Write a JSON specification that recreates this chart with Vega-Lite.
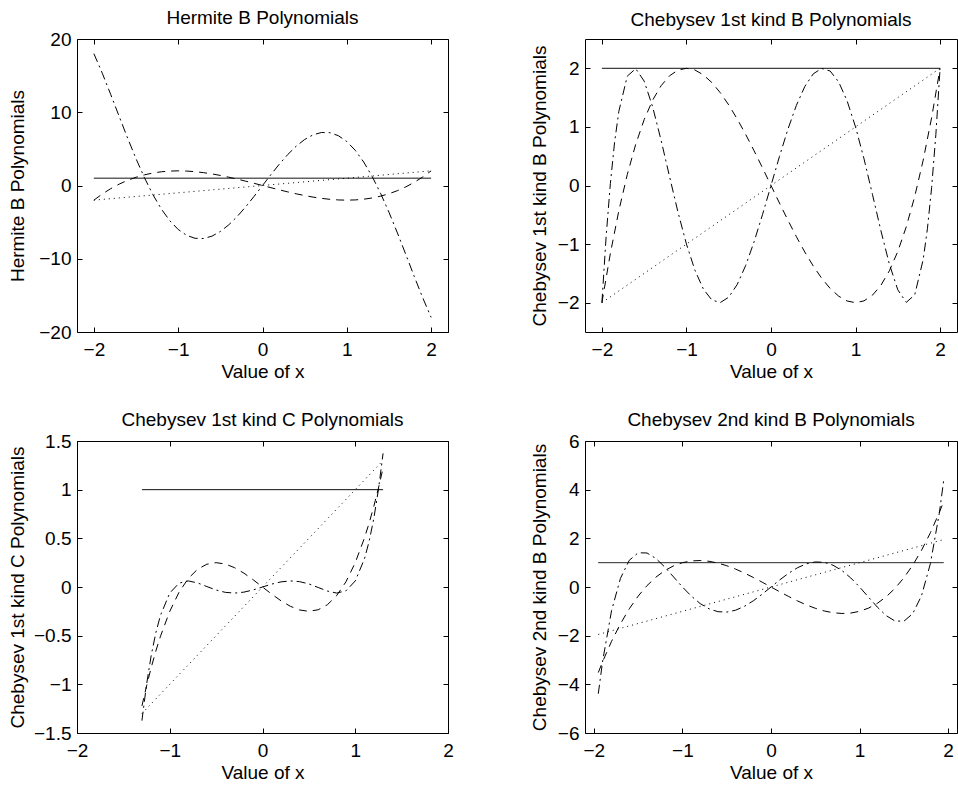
{
"$schema": "https://vega.github.io/schema/vega-lite/v6.json",
"autosize": {"type": "none"},
"padding": {"left": 77, "top": 39, "right": 881, "bottom": 750},
"background": "white",
"bounds": "flush",
"spacing": {"row": 109, "column": 137},
"columns": 2,
"datasets": {
"p1": [
{"x":-2,"y":1,"s":"a"},{"x":2,"y":1,"s":"a"},
{"x":-2,"y":-2,"s":"b"},{"x":2,"y":2,"s":"b"},
{"x":-2,"y":-2,"s":"c"},{"x":-1.9,"y":-1.159,"s":"c"},{"x":-1.8,"y":-0.432,"s":"c"},{"x":-1.7,"y":0.187,"s":"c"},{"x":-1.6,"y":0.704,"s":"c"},{"x":-1.5,"y":1.125,"s":"c"},{"x":-1.4,"y":1.456,"s":"c"},{"x":-1.3,"y":1.703,"s":"c"},{"x":-1.2,"y":1.872,"s":"c"},{"x":-1.1,"y":1.969,"s":"c"},{"x":-1,"y":2,"s":"c"},{"x":-0.9,"y":1.971,"s":"c"},{"x":-0.8,"y":1.888,"s":"c"},{"x":-0.7,"y":1.757,"s":"c"},{"x":-0.6,"y":1.584,"s":"c"},{"x":-0.5,"y":1.375,"s":"c"},{"x":-0.4,"y":1.136,"s":"c"},{"x":-0.3,"y":0.873,"s":"c"},{"x":-0.2,"y":0.592,"s":"c"},{"x":-0.1,"y":0.299,"s":"c"},{"x":0,"y":0,"s":"c"},{"x":0.1,"y":-0.299,"s":"c"},{"x":0.2,"y":-0.592,"s":"c"},{"x":0.3,"y":-0.873,"s":"c"},{"x":0.4,"y":-1.136,"s":"c"},{"x":0.5,"y":-1.375,"s":"c"},{"x":0.6,"y":-1.584,"s":"c"},{"x":0.7,"y":-1.757,"s":"c"},{"x":0.8,"y":-1.888,"s":"c"},{"x":0.9,"y":-1.971,"s":"c"},{"x":1,"y":-2,"s":"c"},{"x":1.1,"y":-1.969,"s":"c"},{"x":1.2,"y":-1.872,"s":"c"},{"x":1.3,"y":-1.703,"s":"c"},{"x":1.4,"y":-1.456,"s":"c"},{"x":1.5,"y":-1.125,"s":"c"},{"x":1.6,"y":-0.704,"s":"c"},{"x":1.7,"y":-0.187,"s":"c"},{"x":1.8,"y":0.432,"s":"c"},{"x":1.9,"y":1.159,"s":"c"},{"x":2,"y":2,"s":"c"},
{"x":-2,"y":18,"s":"d"},{"x":-1.9,"y":15.329,"s":"d"},{"x":-1.8,"y":12.424,"s":"d"},{"x":-1.7,"y":9.431,"s":"d"},{"x":-1.6,"y":6.474,"s":"d"},{"x":-1.5,"y":3.656,"s":"d"},{"x":-1.4,"y":1.062,"s":"d"},{"x":-1.3,"y":-1.243,"s":"d"},{"x":-1.2,"y":-3.208,"s":"d"},{"x":-1.1,"y":-4.801,"s":"d"},{"x":-1,"y":-6,"s":"d"},{"x":-0.9,"y":-6.8,"s":"d"},{"x":-0.8,"y":-7.208,"s":"d"},{"x":-0.7,"y":-7.238,"s":"d"},{"x":-0.6,"y":-6.918,"s":"d"},{"x":-0.5,"y":-6.281,"s":"d"},{"x":-0.4,"y":-5.37,"s":"d"},{"x":-0.3,"y":-4.232,"s":"d"},{"x":-0.2,"y":-2.92,"s":"d"},{"x":-0.1,"y":-1.49,"s":"d"},{"x":0,"y":0,"s":"d"},{"x":0.1,"y":1.49,"s":"d"},{"x":0.2,"y":2.92,"s":"d"},{"x":0.3,"y":4.232,"s":"d"},{"x":0.4,"y":5.37,"s":"d"},{"x":0.5,"y":6.281,"s":"d"},{"x":0.6,"y":6.918,"s":"d"},{"x":0.7,"y":7.238,"s":"d"},{"x":0.8,"y":7.208,"s":"d"},{"x":0.9,"y":6.8,"s":"d"},{"x":1,"y":6,"s":"d"},{"x":1.1,"y":4.801,"s":"d"},{"x":1.2,"y":3.208,"s":"d"},{"x":1.3,"y":1.243,"s":"d"},{"x":1.4,"y":-1.062,"s":"d"},{"x":1.5,"y":-3.656,"s":"d"},{"x":1.6,"y":-6.474,"s":"d"},{"x":1.7,"y":-9.431,"s":"d"},{"x":1.8,"y":-12.424,"s":"d"},{"x":1.9,"y":-15.329,"s":"d"},{"x":2,"y":-18,"s":"d"}
],
"p2": [
{"x":-2,"y":2,"s":"a"},{"x":2,"y":2,"s":"a"},
{"x":-2,"y":-2,"s":"b"},{"x":2,"y":2,"s":"b"},
{"x":-2,"y":-2,"s":"c"},{"x":-1.9,"y":-1.159,"s":"c"},{"x":-1.8,"y":-0.432,"s":"c"},{"x":-1.7,"y":0.187,"s":"c"},{"x":-1.6,"y":0.704,"s":"c"},{"x":-1.5,"y":1.125,"s":"c"},{"x":-1.4,"y":1.456,"s":"c"},{"x":-1.3,"y":1.703,"s":"c"},{"x":-1.2,"y":1.872,"s":"c"},{"x":-1.1,"y":1.969,"s":"c"},{"x":-1,"y":2,"s":"c"},{"x":-0.9,"y":1.971,"s":"c"},{"x":-0.8,"y":1.888,"s":"c"},{"x":-0.7,"y":1.757,"s":"c"},{"x":-0.6,"y":1.584,"s":"c"},{"x":-0.5,"y":1.375,"s":"c"},{"x":-0.4,"y":1.136,"s":"c"},{"x":-0.3,"y":0.873,"s":"c"},{"x":-0.2,"y":0.592,"s":"c"},{"x":-0.1,"y":0.299,"s":"c"},{"x":0,"y":0,"s":"c"},{"x":0.1,"y":-0.299,"s":"c"},{"x":0.2,"y":-0.592,"s":"c"},{"x":0.3,"y":-0.873,"s":"c"},{"x":0.4,"y":-1.136,"s":"c"},{"x":0.5,"y":-1.375,"s":"c"},{"x":0.6,"y":-1.584,"s":"c"},{"x":0.7,"y":-1.757,"s":"c"},{"x":0.8,"y":-1.888,"s":"c"},{"x":0.9,"y":-1.971,"s":"c"},{"x":1,"y":-2,"s":"c"},{"x":1.1,"y":-1.969,"s":"c"},{"x":1.2,"y":-1.872,"s":"c"},{"x":1.3,"y":-1.703,"s":"c"},{"x":1.4,"y":-1.456,"s":"c"},{"x":1.5,"y":-1.125,"s":"c"},{"x":1.6,"y":-0.704,"s":"c"},{"x":1.7,"y":-0.187,"s":"c"},{"x":1.8,"y":0.432,"s":"c"},{"x":1.9,"y":1.159,"s":"c"},{"x":2,"y":2,"s":"c"},
{"x":-2,"y":-2,"s":"d"},{"x":-1.95,"y":-0.871,"s":"d"},{"x":-1.9,"y":0.034,"s":"d"},{"x":-1.85,"y":0.738,"s":"d"},{"x":-1.8,"y":1.264,"s":"d"},{"x":-1.7,"y":1.866,"s":"d"},{"x":-1.6,"y":1.994,"s":"d"},{"x":-1.5,"y":1.781,"s":"d"},{"x":-1.4,"y":1.342,"s":"d"},{"x":-1.3,"y":0.772,"s":"d"},{"x":-1.2,"y":0.152,"s":"d"},{"x":-1.1,"y":-0.456,"s":"d"},{"x":-1,"y":-1,"s":"d"},{"x":-0.9,"y":-1.445,"s":"d"},{"x":-0.8,"y":-1.768,"s":"d"},{"x":-0.7,"y":-1.953,"s":"d"},{"x":-0.6,"y":-1.998,"s":"d"},{"x":-0.5,"y":-1.906,"s":"d"},{"x":-0.4,"y":-1.69,"s":"d"},{"x":-0.3,"y":-1.367,"s":"d"},{"x":-0.2,"y":-0.96,"s":"d"},{"x":-0.1,"y":-0.495,"s":"d"},{"x":0,"y":0,"s":"d"},{"x":0.1,"y":0.495,"s":"d"},{"x":0.2,"y":0.96,"s":"d"},{"x":0.3,"y":1.367,"s":"d"},{"x":0.4,"y":1.69,"s":"d"},{"x":0.5,"y":1.906,"s":"d"},{"x":0.6,"y":1.998,"s":"d"},{"x":0.7,"y":1.953,"s":"d"},{"x":0.8,"y":1.768,"s":"d"},{"x":0.9,"y":1.445,"s":"d"},{"x":1,"y":1,"s":"d"},{"x":1.1,"y":0.456,"s":"d"},{"x":1.2,"y":-0.152,"s":"d"},{"x":1.3,"y":-0.772,"s":"d"},{"x":1.4,"y":-1.342,"s":"d"},{"x":1.5,"y":-1.781,"s":"d"},{"x":1.6,"y":-1.994,"s":"d"},{"x":1.7,"y":-1.866,"s":"d"},{"x":1.8,"y":-1.264,"s":"d"},{"x":1.85,"y":-0.738,"s":"d"},{"x":1.9,"y":-0.034,"s":"d"},{"x":1.95,"y":0.871,"s":"d"},{"x":2,"y":2,"s":"d"}
],
"p3": [
{"x":-1.3,"y":1,"s":"a"},{"x":1.3,"y":1,"s":"a"},
{"x":-1.3,"y":-1.3,"s":"b"},{"x":1.3,"y":1.3,"s":"b"},
{"x":-1.3,"y":-1.222,"s":"c"},{"x":-1.25,"y":-1.016,"s":"c"},{"x":-1.2,"y":-0.828,"s":"c"},{"x":-1.15,"y":-0.658,"s":"c"},{"x":-1.1,"y":-0.506,"s":"c"},{"x":-1,"y":-0.25,"s":"c"},{"x":-0.9,"y":-0.054,"s":"c"},{"x":-0.8,"y":0.088,"s":"c"},{"x":-0.7,"y":0.182,"s":"c"},{"x":-0.6,"y":0.234,"s":"c"},{"x":-0.5,"y":0.25,"s":"c"},{"x":-0.4,"y":0.236,"s":"c"},{"x":-0.3,"y":0.198,"s":"c"},{"x":-0.2,"y":0.142,"s":"c"},{"x":-0.1,"y":0.074,"s":"c"},{"x":0,"y":0,"s":"c"},{"x":0.1,"y":-0.074,"s":"c"},{"x":0.2,"y":-0.142,"s":"c"},{"x":0.3,"y":-0.198,"s":"c"},{"x":0.4,"y":-0.236,"s":"c"},{"x":0.5,"y":-0.25,"s":"c"},{"x":0.6,"y":-0.234,"s":"c"},{"x":0.7,"y":-0.182,"s":"c"},{"x":0.8,"y":-0.088,"s":"c"},{"x":0.9,"y":0.054,"s":"c"},{"x":1,"y":0.25,"s":"c"},{"x":1.1,"y":0.506,"s":"c"},{"x":1.15,"y":0.658,"s":"c"},{"x":1.2,"y":0.828,"s":"c"},{"x":1.25,"y":1.016,"s":"c"},{"x":1.3,"y":1.222,"s":"c"},
{"x":-1.3,"y":-1.373,"s":"d"},{"x":-1.25,"y":-1.001,"s":"d"},{"x":-1.2,"y":-0.703,"s":"d"},{"x":-1.15,"y":-0.47,"s":"d"},{"x":-1.1,"y":-0.291,"s":"d"},{"x":-1,"y":-0.0625,"s":"d"},{"x":-0.9,"y":0.0395,"s":"d"},{"x":-0.8,"y":0.0623,"s":"d"},{"x":-0.7,"y":0.0419,"s":"d"},{"x":-0.6,"y":0.0047,"s":"d"},{"x":-0.5,"y":-0.0313,"s":"d"},{"x":-0.4,"y":-0.0552,"s":"d"},{"x":-0.3,"y":-0.0624,"s":"d"},{"x":-0.2,"y":-0.0528,"s":"d"},{"x":-0.1,"y":-0.03,"s":"d"},{"x":0,"y":0,"s":"d"},{"x":0.1,"y":0.03,"s":"d"},{"x":0.2,"y":0.0528,"s":"d"},{"x":0.3,"y":0.0624,"s":"d"},{"x":0.4,"y":0.0552,"s":"d"},{"x":0.5,"y":0.0313,"s":"d"},{"x":0.6,"y":-0.0047,"s":"d"},{"x":0.7,"y":-0.0419,"s":"d"},{"x":0.8,"y":-0.0623,"s":"d"},{"x":0.9,"y":-0.0395,"s":"d"},{"x":1,"y":0.0625,"s":"d"},{"x":1.1,"y":0.291,"s":"d"},{"x":1.15,"y":0.47,"s":"d"},{"x":1.2,"y":0.703,"s":"d"},{"x":1.25,"y":1.001,"s":"d"},{"x":1.3,"y":1.373,"s":"d"}
],
"p4": [
{"x":-1.95,"y":1,"s":"a"},{"x":1.95,"y":1,"s":"a"},
{"x":-1.95,"y":-1.95,"s":"b"},{"x":1.95,"y":1.95,"s":"b"},
{"x":-1.95,"y":-3.515,"s":"c"},{"x":-1.9,"y":-3.059,"s":"c"},{"x":-1.8,"y":-2.232,"s":"c"},{"x":-1.7,"y":-1.513,"s":"c"},{"x":-1.6,"y":-0.896,"s":"c"},{"x":-1.5,"y":-0.375,"s":"c"},{"x":-1.4,"y":0.056,"s":"c"},{"x":-1.3,"y":0.403,"s":"c"},{"x":-1.2,"y":0.672,"s":"c"},{"x":-1.1,"y":0.869,"s":"c"},{"x":-1,"y":1,"s":"c"},{"x":-0.9,"y":1.071,"s":"c"},{"x":-0.8,"y":1.088,"s":"c"},{"x":-0.7,"y":1.057,"s":"c"},{"x":-0.6,"y":0.984,"s":"c"},{"x":-0.5,"y":0.875,"s":"c"},{"x":-0.4,"y":0.736,"s":"c"},{"x":-0.3,"y":0.573,"s":"c"},{"x":-0.2,"y":0.392,"s":"c"},{"x":-0.1,"y":0.199,"s":"c"},{"x":0,"y":0,"s":"c"},{"x":0.1,"y":-0.199,"s":"c"},{"x":0.2,"y":-0.392,"s":"c"},{"x":0.3,"y":-0.573,"s":"c"},{"x":0.4,"y":-0.736,"s":"c"},{"x":0.5,"y":-0.875,"s":"c"},{"x":0.6,"y":-0.984,"s":"c"},{"x":0.7,"y":-1.057,"s":"c"},{"x":0.8,"y":-1.088,"s":"c"},{"x":0.9,"y":-1.071,"s":"c"},{"x":1,"y":-1,"s":"c"},{"x":1.1,"y":-0.869,"s":"c"},{"x":1.2,"y":-0.672,"s":"c"},{"x":1.3,"y":-0.403,"s":"c"},{"x":1.4,"y":-0.056,"s":"c"},{"x":1.5,"y":0.375,"s":"c"},{"x":1.6,"y":0.896,"s":"c"},{"x":1.7,"y":1.513,"s":"c"},{"x":1.8,"y":2.232,"s":"c"},{"x":1.9,"y":3.059,"s":"c"},{"x":1.95,"y":3.515,"s":"c"},
{"x":-1.95,"y":-4.386,"s":"d"},{"x":-1.9,"y":-3.025,"s":"d"},{"x":-1.8,"y":-0.968,"s":"d"},{"x":-1.7,"y":0.353,"s":"d"},{"x":-1.6,"y":1.098,"s":"d"},{"x":-1.5,"y":1.406,"s":"d"},{"x":-1.4,"y":1.398,"s":"d"},{"x":-1.3,"y":1.175,"s":"d"},{"x":-1.2,"y":0.824,"s":"d"},{"x":-1.1,"y":0.413,"s":"d"},{"x":-1,"y":0,"s":"d"},{"x":-0.9,"y":-0.374,"s":"d"},{"x":-0.8,"y":-0.68,"s":"d"},{"x":-0.7,"y":-0.896,"s":"d"},{"x":-0.6,"y":-1.014,"s":"d"},{"x":-0.5,"y":-1.031,"s":"d"},{"x":-0.4,"y":-0.954,"s":"d"},{"x":-0.3,"y":-0.794,"s":"d"},{"x":-0.2,"y":-0.568,"s":"d"},{"x":-0.1,"y":-0.296,"s":"d"},{"x":0,"y":0,"s":"d"},{"x":0.1,"y":0.296,"s":"d"},{"x":0.2,"y":0.568,"s":"d"},{"x":0.3,"y":0.794,"s":"d"},{"x":0.4,"y":0.954,"s":"d"},{"x":0.5,"y":1.031,"s":"d"},{"x":0.6,"y":1.014,"s":"d"},{"x":0.7,"y":0.896,"s":"d"},{"x":0.8,"y":0.68,"s":"d"},{"x":0.9,"y":0.374,"s":"d"},{"x":1,"y":0,"s":"d"},{"x":1.1,"y":-0.413,"s":"d"},{"x":1.2,"y":-0.824,"s":"d"},{"x":1.3,"y":-1.175,"s":"d"},{"x":1.4,"y":-1.398,"s":"d"},{"x":1.5,"y":-1.406,"s":"d"},{"x":1.6,"y":-1.098,"s":"d"},{"x":1.7,"y":-0.353,"s":"d"},{"x":1.8,"y":0.968,"s":"d"},{"x":1.9,"y":3.025,"s":"d"},{"x":1.95,"y":4.386,"s":"d"}
]
},
"concat": [
{
"width": 371, "height": 293,
"title": {"text": "Hermite B Polynomials", "dy": 8},
"data": {"name": "p1"},
"layer": [
{"mark": {"type": "line", "stroke": "black", "strokeWidth": 1},
 "encoding": {
  "x": {"field": "x", "type": "quantitative", "scale": {"domain": [-2.2, 2.2], "nice": false, "zero": false}, "axis": {"orient": "bottom", "values": [-2,-1,0,1,2], "title": "Value of x"}},
  "y": {"field": "y", "type": "quantitative", "scale": {"domain": [-20, 20], "nice": false, "zero": false}, "axis": {"orient": "left", "values": [-20,-10,0,10,20], "title": "Hermite B Polynomials", "minExtent": 45, "maxExtent": 45}},
  "strokeDash": {"field": "s", "type": "nominal", "scale": {"domain": ["a","b","c","d"], "range": [[1,0],[1,4],[8,6],[9,4,2,4]]}, "legend": null}
 }},
{"mark": {"type": "line", "strokeOpacity": 0},
 "encoding": {
  "x": {"field": "x", "type": "quantitative", "axis": {"orient": "top", "values": [-2,-1,0,1,2], "labels": false, "title": null}},
  "y": {"field": "y", "type": "quantitative", "axis": {"orient": "right", "values": [-20,-10,0,10,20], "labels": false, "title": null}},
  "detail": {"field": "s"}
 }}
],
"resolve": {"axis": {"x": "independent", "y": "independent"}}
},
{
"width": 372, "height": 293,
"title": {"text": "Chebysev 1st kind B Polynomials", "dy": 1},
"data": {"name": "p2"},
"layer": [
{"mark": {"type": "line", "stroke": "black", "strokeWidth": 1},
 "encoding": {
  "x": {"field": "x", "type": "quantitative", "scale": {"domain": [-2.2, 2.2], "nice": false, "zero": false}, "axis": {"orient": "bottom", "values": [-2,-1,0,1,2], "title": "Value of x"}},
  "y": {"field": "y", "type": "quantitative", "scale": {"domain": [-2.5, 2.5], "nice": false, "zero": false}, "axis": {"orient": "left", "values": [-2,-1,0,1,2], "title": "Chebysev 1st kind B Polynomials", "minExtent": 31, "maxExtent": 31}},
  "strokeDash": {"field": "s", "type": "nominal", "scale": {"domain": ["a","b","c","d"], "range": [[1,0],[1,4],[8,6],[9,4,2,4]]}, "legend": null}
 }},
{"mark": {"type": "line", "strokeOpacity": 0},
 "encoding": {
  "x": {"field": "x", "type": "quantitative", "axis": {"orient": "top", "values": [-2,-1,0,1,2], "labels": false, "title": null}},
  "y": {"field": "y", "type": "quantitative", "axis": {"orient": "right", "values": [-2,-1,0,1,2], "labels": false, "title": null}},
  "detail": {"field": "s"}
 }}
],
"resolve": {"axis": {"x": "independent", "y": "independent"}}
},
{
"width": 371, "height": 292,
"title": {"text": "Chebysev 1st kind C Polynomials", "dy": 8},
"data": {"name": "p3"},
"layer": [
{"mark": {"type": "line", "stroke": "black", "strokeWidth": 1},
 "encoding": {
  "x": {"field": "x", "type": "quantitative", "scale": {"domain": [-2, 2], "nice": false, "zero": false}, "axis": {"orient": "bottom", "values": [-2,-1,0,1,2], "title": "Value of x"}},
  "y": {"field": "y", "type": "quantitative", "scale": {"domain": [-1.5, 1.5], "nice": false, "zero": false}, "axis": {"orient": "left", "values": [-1.5,-1,-0.5,0,0.5,1,1.5], "format": "~g", "title": "Chebysev 1st kind C Polynomials", "minExtent": 45, "maxExtent": 45}},
  "strokeDash": {"field": "s", "type": "nominal", "scale": {"domain": ["a","b","c","d"], "range": [[1,0],[1,4],[8,6],[9,4,2,4]]}, "legend": null}
 }},
{"mark": {"type": "line", "strokeOpacity": 0},
 "encoding": {
  "x": {"field": "x", "type": "quantitative", "axis": {"orient": "top", "values": [-2,-1,0,1,2], "labels": false, "title": null}},
  "y": {"field": "y", "type": "quantitative", "axis": {"orient": "right", "values": [-1.5,-1,-0.5,0,0.5,1,1.5], "labels": false, "title": null}},
  "detail": {"field": "s"}
 }}
],
"resolve": {"axis": {"x": "independent", "y": "independent"}}
},
{
"width": 372, "height": 292,
"title": {"text": "Chebysev 2nd kind B Polynomials", "dy": 8},
"data": {"name": "p4"},
"layer": [
{"mark": {"type": "line", "stroke": "black", "strokeWidth": 1},
 "encoding": {
  "x": {"field": "x", "type": "quantitative", "scale": {"domain": [-2.1, 2.1], "nice": false, "zero": false}, "axis": {"orient": "bottom", "values": [-2,-1,0,1,2], "title": "Value of x"}},
  "y": {"field": "y", "type": "quantitative", "scale": {"domain": [-6, 6], "nice": false, "zero": false}, "axis": {"orient": "left", "values": [-6,-4,-2,0,2,4,6], "title": "Chebysev 2nd kind B Polynomials", "minExtent": 31, "maxExtent": 31}},
  "strokeDash": {"field": "s", "type": "nominal", "scale": {"domain": ["a","b","c","d"], "range": [[1,0],[1,4],[8,6],[9,4,2,4]]}, "legend": null}
 }},
{"mark": {"type": "line", "strokeOpacity": 0},
 "encoding": {
  "x": {"field": "x", "type": "quantitative", "axis": {"orient": "top", "values": [-2,-1,0,1,2], "labels": false, "title": null}},
  "y": {"field": "y", "type": "quantitative", "axis": {"orient": "right", "values": [-6,-4,-2,0,2,4,6], "labels": false, "title": null}},
  "detail": {"field": "s"}
 }}
],
"resolve": {"axis": {"x": "independent", "y": "independent"}}
}
],
"config": {
"font": "Liberation Sans",
"view": {"stroke": "black", "strokeWidth": 1},
"axis": {"grid": false, "domain": false, "ticks": true, "tickColor": "black", "tickSize": -5, "tickWidth": 1, "labelColor": "black", "labelFontSize": 19, "labelFont": "Liberation Sans", "labelFlush": false, "labelOverlap": false, "labelBound": false, "titleFontSize": 19, "titleFont": "Liberation Sans", "titleFontWeight": "normal", "titleColor": "black"},
"axisX": {"labelPadding": 13, "titlePadding": 3},
"axisY": {"labelPadding": 11, "titlePadding": 5},
"title": {"fontSize": 19, "fontWeight": "normal", "font": "Liberation Sans", "color": "black", "frame": "group", "anchor": "middle", "offset": 10, "baseline": "alphabetic"}
}
}
